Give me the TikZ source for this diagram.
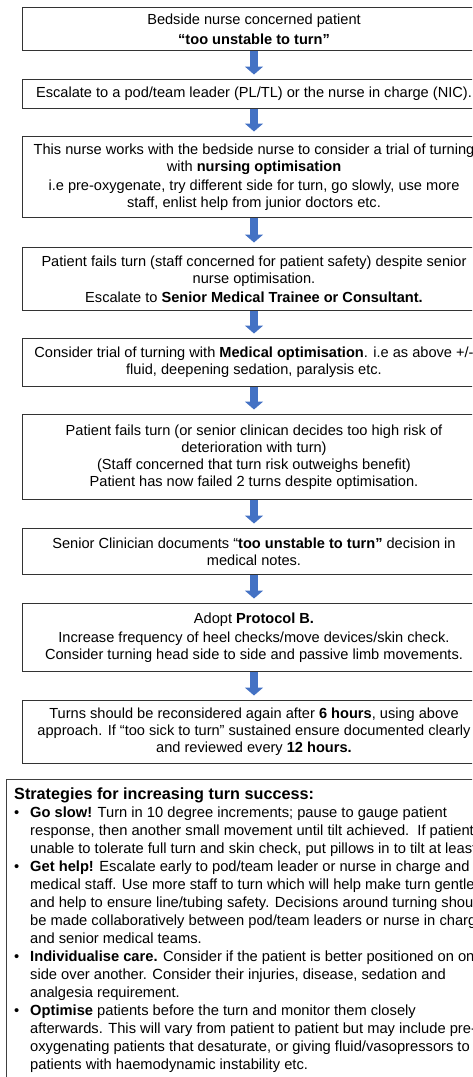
\documentclass[tikz,border=0pt]{standalone}
\usepackage{fontspec}
\setmainfont{Liberation Sans}
\usetikzlibrary{arrows.meta}
\definecolor{flowblue}{RGB}{68,114,196}
\newcommand{\sbul}{\makebox[16pt][l]{•}}
\newcommand{\sind}{\makebox[16pt][l]{}}
\tikzset{
  stepbox/.style={draw=black!80, line width=0.9pt, minimum width=464pt, align=center,
    anchor=north, inner sep=2pt, font=\fontsize{14.6}{17}\selectfont},
  flowarrow/.style={flowblue, line width=8pt, -{Triangle[width=18pt,length=8pt]}},
  strattext/.style={anchor=north west, inner sep=0pt, align=left,
    font=\fontsize{14.7}{18}\selectfont}
}

\begin{document}
\begin{tikzpicture}[x=1pt,y=-1pt]
		\useasboundingbox (0,0) rectangle (472,1077);
		\clip (0,0) rectangle (472,1077);
		\node[stepbox, minimum height=43pt] (concern) at (254,7) {Bedside nurse concerned patient\\[3pt]\textbf{“too unstable to turn”}};
		\node[stepbox, minimum height=29pt] (escalate) at (254,79) {Escalate to a pod/team leader (PL/TL) or the nurse in charge (NIC).};
		\node[stepbox, minimum height=81pt] (nursetrial) at (254,136) {This nurse works with the bedside nurse to consider a trial of turning\\ with \textbf{nursing optimisation}\\[2pt] i.e pre-oxygenate, try different side for turn, go slowly, use more\\ staff, enlist help from junior doctors etc.};
		\node[stepbox, minimum height=63pt] (failone) at (254,247) {Patient fails turn (staff concerned for patient safety) despite senior\\ nurse optimisation.\\[2pt] Escalate to \textbf{Senior Medical Trainee or Consultant.}};
		\node[stepbox, minimum height=48pt] (medtrial) at (254,338) {Consider trial of turning with \textbf{Medical optimisation}. i.e as above +/-\\ fluid, deepening sedation, paralysis etc.};
		\node[stepbox, minimum height=85pt] (failtwo) at (254,414) {Patient fails turn (or senior clinican decides too high risk of\\ deterioration with turn)\\ (Staff concerned that turn risk outweighs benefit)\\ Patient has now failed 2 turns despite optimisation.};
		\node[stepbox, minimum height=46pt] (document) at (254,528) {Senior Clinician documents “\textbf{too unstable to turn”} decision in\\ medical notes.};
		\node[stepbox, minimum height=68pt] (protocol) at (254,603) {Adopt \textbf{Protocol B.}\\[2pt] Increase frequency of heel checks/move devices/skin check.\\ Consider turning head side to side and passive limb movements.};
		\node[stepbox, minimum height=63pt] (review) at (254,700) {Turns should be reconsidered again after \textbf{6 hours}, using above\\ approach. If “too sick to turn” sustained ensure documented clearly\\ and reviewed every \textbf{12 hours.}};
		\foreach \a/\b in {concern/escalate, escalate/nursetrial, nursetrial/failone, failone/medtrial,
		  medtrial/failtwo, failtwo/document, document/protocol, protocol/review}
		  \draw[flowarrow] (\a.south) -- ([yshift=4.5pt]\b.north);
		\draw[draw=black!75, line width=0.9pt] (6,779) rectangle (500,1100);
		\node[strattext] (strategies) at (14,788) {{\fontsize{16.2}{18}\selectfont\bfseries Strategies for increasing turn success:}\\
		  \sbul\textbf{Go slow!} Turn in 10 degree increments; pause to gauge patient\\
		  \sind response, then another small movement until tilt achieved.\ \ If patient\\
		  \sind unable to tolerate full turn and skin check, put pillows in to tilt at least\\
		  \sbul\textbf{Get help!} Escalate early to pod/team leader or nurse in charge and\\
		  \sind medical staff. Use more staff to turn which will help make turn gentler\\
		  \sind and help to ensure line/tubing safety. Decisions around turning should\\
		  \sind be made collaboratively between pod/team leaders or nurse in charge\\
		  \sind and senior medical teams.\\
		  \sbul\textbf{Individualise care.} Consider if the patient is better positioned on one\\
		  \sind side over another. Consider their injuries, disease, sedation and\\
		  \sind analgesia requirement.\\
		  \sbul\textbf{Optimise} patients before the turn and monitor them closely\\
		  \sind afterwards. This will vary from patient to patient but may include pre-\\
		  \sind oxygenating patients that desaturate, or giving fluid/vasopressors to\\
		  \sind patients with haemodynamic instability etc.};
	\end{tikzpicture}
\end{document}
